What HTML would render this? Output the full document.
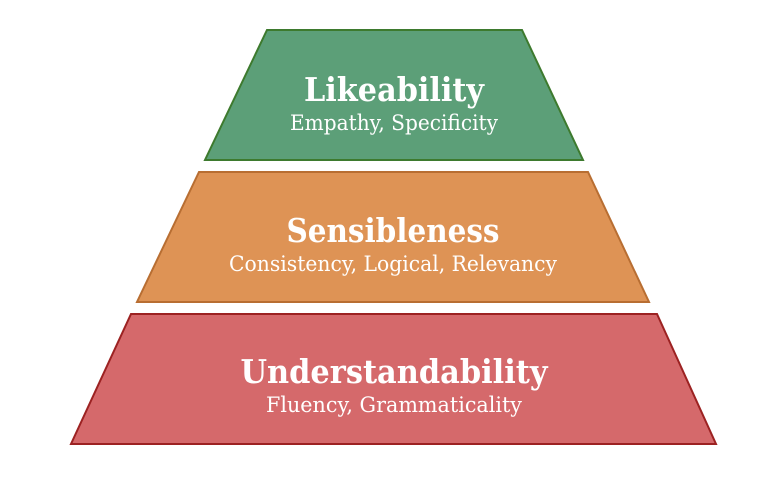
<!DOCTYPE html>
<html><head><style>html,body{margin:0;padding:0;background:#fff;}</style></head>
<body>
<svg width="784" height="488" viewBox="0 0 784 488" xmlns="http://www.w3.org/2000/svg" font-family="'DejaVu Serif','Liberation Serif',serif" fill="#fff" text-anchor="middle">
<polygon points="267,30 522,30 583,160 205,160" fill="#5c9f78" stroke="#3d7a2e" stroke-width="2"/>
<polygon points="199,172 588,172 649,302 137,302" fill="#de9355" stroke="#b86e32" stroke-width="2"/>
<polygon points="131,314 657,314 716,444 71,444" fill="#d5696b" stroke="#9c2222" stroke-width="2"/>
<text x="394" y="101" font-size="33" font-weight="bold" textLength="180" lengthAdjust="spacingAndGlyphs">Likeability</text>
<text x="394" y="130" font-size="21" textLength="208" lengthAdjust="spacingAndGlyphs">Empathy, Specificity</text>
<text x="393" y="242" font-size="33" font-weight="bold" textLength="213" lengthAdjust="spacingAndGlyphs">Sensibleness</text>
<text x="393" y="271" font-size="21" textLength="328" lengthAdjust="spacingAndGlyphs">Consistency, Logical, Relevancy</text>
<text x="394" y="383" font-size="33" font-weight="bold" textLength="307" lengthAdjust="spacingAndGlyphs">Understandability</text>
<text x="394" y="412" font-size="21" textLength="256" lengthAdjust="spacingAndGlyphs">Fluency, Grammaticality</text>
</svg>
</body></html>
